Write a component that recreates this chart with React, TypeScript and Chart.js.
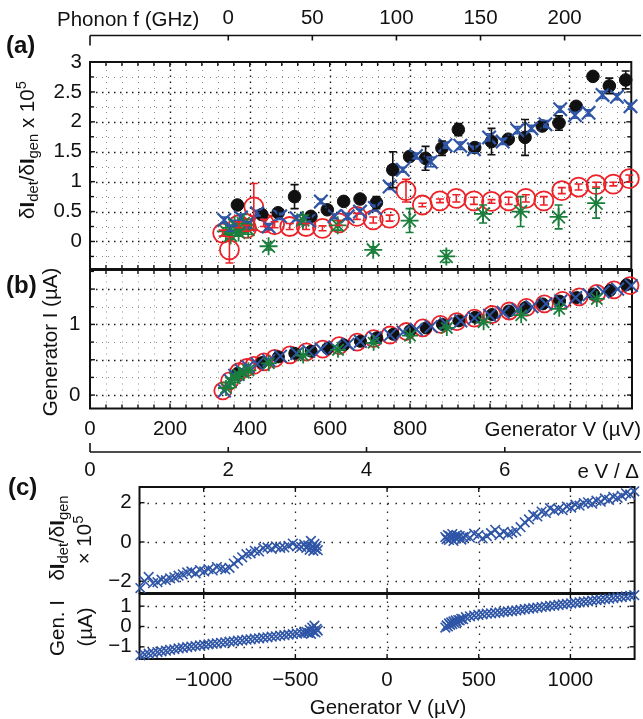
import React, { useEffect, useRef } from "react";
import { Chart, registerables } from "chart.js";

Chart.register(...registerables);

// ---------------- Panel (a) & (b) data ----------------
const vBlack = [369, 430, 471, 512, 553, 594, 635, 676, 717, 758, 800, 840, 881, 922, 963, 1005, 1047, 1089, 1132, 1174, 1217, 1259, 1300, 1341];
const ratioBlack = [0.61, 0.45, 0.48, 0.75, 0.42, 0.53, 0.67, 0.71, 0.65, 1.2, 1.42, 1.39, 1.56, 1.87, 1.57, 1.67, 1.71, 1.74, 1.93, 1.98, 2.26, 2.76, 2.6, 2.7];
const errBlack = [0.07, 0.05, 0.06, 0.2, 0.05, 0.06, 0.05, 0.06, 0.1, 0.3, 0.06, 0.2, 0.12, 0.1, 0.06, 0.22, 0.05, 0.3, 0.06, 0.12, 0.05, 0.04, 0.13, 0.15];
const iBlack = [0.31, 0.46, 0.54, 0.59, 0.62, 0.66, 0.71, 0.76, 0.81, 0.86, 0.91, 0.95, 1.0, 1.05, 1.1, 1.14, 1.19, 1.24, 1.29, 1.33, 1.38, 1.43, 1.48, 1.56];

const vBlue = [336, 350, 362, 378, 395, 418, 447, 476, 517, 547, 578, 612, 645, 676, 713, 750, 783, 816, 853, 890, 927, 961, 999, 1033, 1070, 1105, 1140, 1177, 1214, 1248, 1283, 1319, 1353];
const ratioBlue = [0.36, 0.22, 0.3, 0.4, 0.28, 0.47, 0.25, 0.42, 0.39, 0.35, 0.67, 0.42, 0.42, 0.5, 0.56, 0.92, 1.2, 1.43, 1.33, 1.61, 1.6, 1.54, 1.74, 1.67, 1.86, 1.89, 1.96, 2.21, 2.11, 2.15, 2.45, 2.42, 2.26];
const errBlue = [0.05, 0.05, 0.05, 0.06, 0.05, 0.05, 0.05, 0.05, 0.04, 0.05, 0.04, 0.04, 0.05, 0.04, 0.05, 0.05, 0.04, 0.05, 0.08, 0.05, 0.06, 0.05, 0.06, 0.05, 0.06, 0.05, 0.06, 0.05, 0.05, 0.05, 0.06, 0.05, 0.05];
const iBlue = [0.06, 0.21, 0.28, 0.35, 0.4, 0.44, 0.49, 0.55, 0.59, 0.62, 0.65, 0.68, 0.72, 0.76, 0.81, 0.85, 0.89, 0.93, 0.97, 1.01, 1.05, 1.09, 1.13, 1.17, 1.21, 1.25, 1.29, 1.33, 1.38, 1.42, 1.46, 1.5, 1.55];

const vRed = [332, 349, 372, 392, 410, 435, 462, 500, 541, 582, 623, 668, 709, 750, 791, 832, 876, 917, 961, 1005, 1048, 1091, 1136, 1181, 1223, 1267, 1310, 1350];
const ratioRed = [0.14, -0.14, 0.28, 0.22, 0.58, 0.31, 0.28, 0.25, 0.25, 0.22, 0.31, 0.42, 0.36, 0.39, 0.85, 0.61, 0.68, 0.72, 0.68, 0.67, 0.68, 0.72, 0.68, 0.85, 0.91, 0.95, 0.96, 1.05];
const errRed = [0.05, 0.22, 0.05, 0.05, 0.39, 0.06, 0.05, 0.05, 0.05, 0.04, 0.04, 0.05, 0.05, 0.05, 0.19, 0.03, 0.03, 0.06, 0.06, 0.03, 0.06, 0.06, 0.07, 0.05, 0.05, 0.04, 0.03, 0.06];
const iRed = [0.06, 0.2, 0.33, 0.39, 0.42, 0.47, 0.52, 0.57, 0.61, 0.65, 0.7, 0.75, 0.8, 0.85, 0.9, 0.95, 1.0, 1.04, 1.09, 1.14, 1.19, 1.24, 1.29, 1.34, 1.39, 1.44, 1.49, 1.55];

const vGreen = [340, 352, 362, 372, 384, 396, 447, 533, 620, 709, 800, 892, 984, 1078, 1173, 1267];
const ratioGreen = [0.17, 0.1, 0.27, 0.15, 0.3, 0.2, -0.08, 0.36, 0.27, -0.14, 0.35, -0.25, 0.46, 0.5, 0.41, 0.64];
const errGreen = [0.06, 0.06, 0.08, 0.06, 0.15, 0.08, 0.06, 0.08, 0.08, 0.05, 0.2, 0.1, 0.15, 0.25, 0.2, 0.25];
const iGreen = [0.1, 0.18, 0.24, 0.28, 0.32, 0.35, 0.45, 0.56, 0.64, 0.74, 0.84, 0.95, 1.03, 1.13, 1.22, 1.36];

// ---------------- Panel (c) data ----------------
const vNeg = [-1345, -1322, -1300, -1276, -1252, -1230, -1206, -1183, -1160, -1137, -1114, -1090, -1067, -1044, -1020, -997, -974, -951, -928, -905, -882, -859, -836, -813, -790, -767, -744, -721, -698, -675, -652, -629, -606, -583, -560, -537, -514, -491, -468, -452, -440, -430, -422, -415, -408, -402, -396, -390, -384, -378];
const ratioNeg = [-2.35, -2.0, -1.78, -2.1, -2.05, -1.92, -1.95, -1.85, -1.8, -1.72, -1.65, -1.55, -1.5, -1.6, -1.43, -1.5, -1.39, -1.45, -1.28, -1.35, -1.4, -1.32, -1.1, -0.95, -0.78, -0.62, -0.58, -0.45, -0.48, -0.32, -0.28, -0.35, -0.22, -0.3, -0.28, -0.2, -0.08, -0.22, -0.25, -0.12, -0.3, -0.18, -0.4, 0.05, -0.25, -0.45, -0.1, -0.35, -0.2, -0.42];
const iNeg = [-1.42, -1.38, -1.34, -1.3, -1.26, -1.22, -1.19, -1.15, -1.12, -1.08, -1.05, -1.02, -0.99, -0.96, -0.93, -0.9, -0.88, -0.85, -0.83, -0.8, -0.78, -0.75, -0.73, -0.7, -0.68, -0.65, -0.63, -0.6, -0.58, -0.55, -0.53, -0.5, -0.48, -0.45, -0.43, -0.4, -0.38, -0.35, -0.32, -0.3, -0.26, -0.31, -0.17, -0.36, -0.06, -0.24, 0.04, -0.29, -0.12, -0.2];

const vPos = [318, 325, 332, 338, 344, 350, 356, 362, 368, 374, 380, 388, 396, 405, 415, 430, 452, 475, 498, 521, 544, 567, 590, 613, 636, 659, 682, 705, 728, 751, 774, 797, 820, 843, 866, 889, 912, 935, 958, 981, 1004, 1027, 1050, 1073, 1096, 1119, 1142, 1165, 1188, 1211, 1234, 1257, 1280, 1303, 1326, 1348];
const ratioPos = [0.25, 0.15, 0.35, 0.1, 0.3, 0.2, 0.4, 0.05, 0.28, 0.18, 0.35, 0.22, 0.3, 0.12, 0.25, 0.3, 0.22, 0.42, 0.35, 0.18, 0.3, 0.45, 0.62, 0.35, 0.52, 0.4, 0.48, 0.55, 0.75, 1.0, 1.15, 1.38, 1.3, 1.55, 1.48, 1.72, 1.6, 1.68, 1.62, 1.8, 1.75, 1.9, 1.85, 1.98, 2.02, 1.95, 2.1, 2.05, 2.22, 2.15, 2.3, 2.25, 2.35, 2.48, 2.42, 2.58];
const iPos = [-0.05, 0.05, 0.0, 0.15, 0.08, 0.2, 0.12, 0.25, 0.18, 0.3, 0.22, 0.32, 0.3, 0.38, 0.36, 0.46, 0.5, 0.54, 0.57, 0.6, 0.63, 0.65, 0.67, 0.69, 0.72, 0.74, 0.76, 0.79, 0.82, 0.85, 0.88, 0.9, 0.93, 0.96, 0.98, 1.01, 1.03, 1.06, 1.09, 1.11, 1.14, 1.16, 1.19, 1.22, 1.24, 1.27, 1.3, 1.32, 1.35, 1.37, 1.4, 1.43, 1.45, 1.48, 1.51, 1.54];

// ---------------- axis tick labels ----------------
const phononTickLabels = [0, 50, 100, 150, 200];
const gapTickLabels = [0, 2, 4, 6];
const genVTickLabels = [0, 200, 400, 600, 800];
const ratioATickLabels = [0, 0.5, 1, 1.5, 2, 2.5, 3];
const currentBTickLabels = [0, 1];
const cXTickLabels = [-1000, -500, 0, 500, 1000];
const cTopYTickLabels = [-2, 0, 2];
const cBotYTickLabels = [-1, 0, 1];

// axis ranges / physical conversion
const V_MIN = 0;
const V_MAX = 1355;
const DELTA_UV = 170; // superconducting gap (µV)
const GHZ_PER_UV = 0.2418; // e/h
const PH_MIN = (V_MIN - 2 * DELTA_UV) * GHZ_PER_UV;
const PH_MAX = (V_MAX - 2 * DELTA_UV) * GHZ_PER_UV;

// ---------------- styling ----------------
const FONT = "'Liberation Sans', Arial, Helvetica, sans-serif";
const FS = 20.5;
const PW = 643;
const PH = 719;
const BLUE = "#2f55a6";
const RED = "#ec2228";
const GREEN = "#1b7f3c";
const BLACK = "#111111";

const fmt = (v: number) => (v < 0 ? "\u2212" + String(-v) : String(v));

function mkTicks(min: number, max: number, step: number, majorStep: number, labels: number[]) {
  const out: any[] = [];
  const n0 = Math.ceil(min / step - 1e-9);
  const n1 = Math.floor(max / step + 1e-9);
  for (let n = n0; n <= n1; n++) {
    const v = Math.round(n * step * 1e6) / 1e6;
    const r = v / majorStep;
    const mj = Math.abs(r - Math.round(r)) < 1e-6;
    const hasLabel = labels.some((l) => Math.abs(l - v) < 1e-6);
    out.push({ value: v, mj, lbl: hasLabel ? fmt(v) : "" });
  }
  return out;
}

function scale(o: any) {
  const horizontal = o.position === "top" || o.position === "bottom";
  return {
    type: "linear",
    position: o.position,
    min: o.min,
    max: o.max,
    bounds: "data",
    display: o.display === undefined ? true : o.display,
    afterBuildTicks: (s: any) => {
      s.ticks = o.ticks.map((t: any) => ({ ...t }));
    },
    afterFit: (s: any) => {
      if (horizontal) s.height = o.size;
      else s.width = o.size;
    },
    grid: { display: false, drawTicks: false, drawOnChartArea: false },
    border: { display: false },
    ticks: {
      display: o.labels === undefined ? true : o.labels,
      autoSkip: false,
      maxRotation: 0,
      minRotation: 0,
      padding: o.padding === undefined ? 8 : o.padding,
      color: "#111",
      font: { family: FONT, size: FS },
      callback: (_v: any, i: number, arr: any[]) => (arr[i] && arr[i].lbl) || "",
    },
  };
}

const matlabPlugin: any = {
  id: "matlab",
  beforeDatasetsDraw(chart: any, _a: any, o: any) {
    if (!o || !o.on) return;
    const { ctx, chartArea: a } = chart;
    const xs = chart.scales.x;
    const ys = chart.scales.y;
    const seg = (x1: number, y1: number, x2: number, y2: number) => {
      ctx.beginPath();
      ctx.moveTo(x1, y1);
      ctx.lineTo(x2, y2);
      ctx.stroke();
    };
    ctx.save();
    for (const t of xs.ticks) {
      if (!t.mj && !o.minorGrid) continue;
      const p = Math.round(xs.getPixelForValue(t.value)) + 0.5;
      if (p < a.left + 2 || p > a.right - 2) continue;
      ctx.setLineDash(t.mj ? o.majorDash : o.minorDash);
      ctx.strokeStyle = t.mj ? o.majorColor : o.minorColor;
      ctx.lineWidth = t.mj ? o.majorWidth : o.minorWidth;
      seg(p, a.bottom, p, a.top);
    }
    for (const t of ys.ticks) {
      if (!t.mj && !o.minorGrid) continue;
      const p = Math.round(ys.getPixelForValue(t.value)) + 0.5;
      if (p < a.top + 2 || p > a.bottom - 2) continue;
      ctx.setLineDash(t.mj ? o.majorDash : o.minorDash);
      ctx.strokeStyle = t.mj ? o.majorColor : o.minorColor;
      ctx.lineWidth = t.mj ? o.majorWidth : o.minorWidth;
      seg(a.left, p, a.right, p);
    }
    ctx.setLineDash([]);
    ctx.strokeStyle = "#111";
    ctx.lineWidth = o.tickWidth;
    for (const t of xs.ticks) {
      if (!t.mj && !o.minorTicks) continue;
      const p = xs.getPixelForValue(t.value);
      const L = t.mj ? o.tickLen : o.minorTickLen;
      seg(p, a.top, p, a.top + L);
      seg(p, a.bottom, p, a.bottom - L);
    }
    for (const t of ys.ticks) {
      if (!t.mj && !o.minorTicks) continue;
      const p = ys.getPixelForValue(t.value);
      const L = t.mj ? o.tickLen : o.minorTickLen;
      seg(a.left, p, a.left + L, p);
      seg(a.right, p, a.right - L, p);
    }
    ctx.lineWidth = o.borderWidth;
    ctx.strokeRect(a.left, a.top, a.right - a.left, a.bottom - a.top);
    ctx.restore();
  },
};

const floatAxisPlugin: any = {
  id: "floatAxis",
  afterDraw(chart: any, _a: any, o: any) {
    if (!o || !o.on) return;
    const { ctx, chartArea: a } = chart;
    const xs = chart.scales.x;
    const y0 = o.side === "top" ? a.top : a.bottom;
    const dir = o.side === "top" ? 1 : -1;
    ctx.save();
    ctx.strokeStyle = "#111";
    ctx.lineWidth = o.width;
    ctx.beginPath();
    ctx.moveTo(a.left, y0);
    ctx.lineTo(a.right, y0);
    ctx.stroke();
    xs.ticks.forEach((t: any, i: number) => {
      const p = xs.getPixelForValue(t.value);
      const L = i === 0 ? o.endLen : o.len;
      ctx.beginPath();
      ctx.moveTo(p, y0);
      ctx.lineTo(p, y0 + dir * L);
      ctx.stroke();
    });
    ctx.restore();
  },
};

const errPlugin: any = {
  id: "errbars",
  afterDatasetsDraw(chart: any) {
    const { ctx } = chart;
    const xs = chart.scales.x;
    const ys = chart.scales.y;
    chart.data.datasets.forEach((ds: any) => {
      if (!ds.errors) return;
      ctx.save();
      ctx.strokeStyle = ds.errColor;
      ctx.lineWidth = ds.errWidth || 1.6;
      const c = ds.capHalf || 4;
      ds.data.forEach((pt: any, j: number) => {
        const e = ds.errors[j];
        if (!e) return;
        const px = xs.getPixelForValue(pt.x);
        const y1 = ys.getPixelForValue(pt.y - e);
        const y2 = ys.getPixelForValue(pt.y + e);
        ctx.beginPath();
        ctx.moveTo(px, y1);
        ctx.lineTo(px, y2);
        ctx.moveTo(px - c, y1);
        ctx.lineTo(px + c, y1);
        ctx.moveTo(px - c, y2);
        ctx.lineTo(px + c, y2);
        ctx.stroke();
      });
      ctx.restore();
    });
  },
};

const pts = (xs: number[], ys: number[]) => xs.map((x, i) => ({ x, y: ys[i] }));

function makeChart(canvas: HTMLCanvasElement, cfg: any) {
  const { area, xSize, ySize, xPos } = cfg;
  const padding =
    xPos === "top"
      ? { left: area.l - ySize, right: PW - area.r, top: area.t - xSize, bottom: PH - area.b }
      : { left: area.l - ySize, right: PW - area.r, top: area.t, bottom: PH - area.b - xSize };
  return new Chart(canvas, {
    type: "scatter",
    data: { datasets: cfg.datasets || [] },
    options: {
      animation: false,
      responsive: false,
      devicePixelRatio: 1,
      events: [],
      layout: { padding },
      scales: { x: cfg.x, y: cfg.y },
      plugins: {
        legend: { display: false },
        tooltip: { enabled: false },
        matlab: cfg.matlab || { on: false },
        floatAxis: cfg.floatAxis || { on: false },
      },
    } as any,
    plugins: [matlabPlugin, floatAxisPlugin, errPlugin],
  });
}

const gridAB = {
  on: true,
  minorGrid: true,
  minorTicks: true,
  majorDash: [1.5, 4.5],
  minorDash: [1, 5],
  majorColor: "#1a1a1a",
  minorColor: "#8a8a8a",
  majorWidth: 1.4,
  minorWidth: 1,
  tickLen: 5,
  minorTickLen: 4,
  tickWidth: 1.4,
  borderWidth: 2,
};

const gridC = {
  on: true,
  minorGrid: false,
  minorTicks: false,
  majorDash: [1.5, 6.5],
  minorDash: [1, 6],
  majorColor: "#222",
  minorColor: "#777",
  majorWidth: 1.3,
  minorWidth: 1,
  tickLen: 5,
  minorTickLen: 3,
  tickWidth: 1.4,
  borderWidth: 2,
};

export default function App() {
  const r0 = useRef<HTMLCanvasElement>(null);
  const r1 = useRef<HTMLCanvasElement>(null);
  const r2 = useRef<HTMLCanvasElement>(null);
  const r3 = useRef<HTMLCanvasElement>(null);
  const r4 = useRef<HTMLCanvasElement>(null);
  const r5 = useRef<HTMLCanvasElement>(null);

  useEffect(() => {
    const charts: Chart[] = [];

    // Phonon frequency axis (top)
    charts.push(
      makeChart(r0.current!, {
        area: { l: 90, t: 35.5, r: 641, b: 41 },
        xSize: 35.5,
        ySize: 0,
        xPos: "top",
        x: scale({
          position: "top",
          min: PH_MIN,
          max: PH_MAX,
          size: 35.5,
          padding: 4.7,
          ticks: [{ value: PH_MIN, lbl: "" }].concat(phononTickLabels.map((v) => ({ value: v, lbl: String(v) })) as any),
        }),
        y: { type: "linear", display: false, min: 0, max: 1 },
        floatAxis: { on: true, side: "top", len: 5, endLen: 10, width: 1.6 },
      })
    );

    // Panel (a)
    const xTicksAB = mkTicks(V_MIN, V_MAX, 40, 200, genVTickLabels);
    charts.push(
      makeChart(r1.current!, {
        area: { l: 90, t: 62, r: 641, b: 269 },
        xSize: 0,
        ySize: 90,
        xPos: "bottom",
        x: scale({ position: "bottom", min: V_MIN, max: V_MAX, size: 0, labels: false, ticks: xTicksAB }),
        y: scale({ position: "left", min: -0.46, max: 3, size: 90, padding: 8, ticks: mkTicks(-0.46, 3, 0.25, 0.5, ratioATickLabels) }),
        matlab: gridAB,
        datasets: [
          { data: pts(vGreen, ratioGreen), pointStyle: "star", pointRadius: 9, pointBorderColor: GREEN, pointBackgroundColor: GREEN, pointBorderWidth: 1.8, errors: errGreen, errColor: GREEN, clip: false },
          { data: pts(vBlue, ratioBlue), pointStyle: "crossRot", pointRadius: 9.5, pointBorderColor: BLUE, pointBackgroundColor: BLUE, pointBorderWidth: 2.2, errors: errBlue, errColor: BLUE, clip: false },
          { data: pts(vBlack, ratioBlack), pointStyle: "circle", pointRadius: 6.3, pointBorderColor: BLACK, pointBackgroundColor: BLACK, pointBorderWidth: 1, errors: errBlack, errColor: BLACK, clip: false },
          { data: pts(vRed, ratioRed), pointStyle: "circle", pointRadius: 9.5, pointBorderColor: RED, pointBackgroundColor: "rgba(0,0,0,0)", pointBorderWidth: 1.8, errors: errRed, errColor: RED, clip: false },
        ],
      })
    );

    // Panel (b)
    charts.push(
      makeChart(r2.current!, {
        area: { l: 90, t: 270, r: 641, b: 408.5 },
        xSize: 40,
        ySize: 90,
        xPos: "bottom",
        x: scale({ position: "bottom", min: V_MIN, max: V_MAX, size: 40, padding: 8.2, ticks: xTicksAB }),
        y: scale({ position: "left", min: -0.19, max: 1.77, size: 90, padding: 9.5, ticks: mkTicks(-0.19, 1.77, 0.25, 0.5, currentBTickLabels) }),
        matlab: gridAB,
        datasets: [
          { data: pts(vGreen, iGreen), pointStyle: "star", pointRadius: 8, pointBorderColor: GREEN, pointBackgroundColor: GREEN, pointBorderWidth: 1.8, clip: false },
          { data: pts(vBlue, iBlue), pointStyle: "crossRot", pointRadius: 9, pointBorderColor: BLUE, pointBackgroundColor: BLUE, pointBorderWidth: 2, clip: false },
          { data: pts(vBlack, iBlack), pointStyle: "circle", pointRadius: 6, pointBorderColor: BLACK, pointBackgroundColor: BLACK, pointBorderWidth: 1, clip: false },
          { data: pts(vRed, iRed), pointStyle: "circle", pointRadius: 8.5, pointBorderColor: RED, pointBackgroundColor: "rgba(0,0,0,0)", pointBorderWidth: 1.8, clip: false },
        ],
      })
    );

    // e V / Δ axis
    charts.push(
      makeChart(r3.current!, {
        area: { l: 90, t: 445, r: 641, b: 452 },
        xSize: 40,
        ySize: 0,
        xPos: "bottom",
        x: scale({
          position: "bottom",
          min: V_MIN / DELTA_UV,
          max: V_MAX / DELTA_UV,
          size: 40,
          padding: 6.2,
          ticks: gapTickLabels.map((v) => ({ value: v, lbl: String(v) })),
        }),
        y: { type: "linear", display: false, min: 0, max: 1 },
        floatAxis: { on: true, side: "bottom", len: 5, endLen: 9, width: 1.6 },
      })
    );

    const cX = mkTicks(-1350, 1350, 500, 500, cXTickLabels);
    // Panel (c) top
    charts.push(
      makeChart(r4.current!, {
        area: { l: 139.5, t: 487, r: 636, b: 593 },
        xSize: 0,
        ySize: 139.5,
        xPos: "bottom",
        x: scale({ position: "bottom", min: -1350, max: 1350, size: 0, labels: false, ticks: cX }),
        y: scale({ position: "left", min: -2.6, max: 2.8, size: 139.5, padding: 7.8, ticks: mkTicks(-2.6, 2.8, 2, 2, cTopYTickLabels) }),
        matlab: gridC,
        datasets: [
          { data: pts(vNeg, ratioNeg), pointStyle: "crossRot", pointRadius: 6.8, pointBorderColor: BLUE, pointBackgroundColor: BLUE, pointBorderWidth: 1.6, clip: false },
          { data: pts(vPos, ratioPos), pointStyle: "crossRot", pointRadius: 6.8, pointBorderColor: BLUE, pointBackgroundColor: BLUE, pointBorderWidth: 1.6, clip: false },
        ],
      })
    );

    // Panel (c) bottom
    charts.push(
      makeChart(r5.current!, {
        area: { l: 139.5, t: 594, r: 636, b: 659 },
        xSize: 40,
        ySize: 139.5,
        xPos: "bottom",
        x: scale({ position: "bottom", min: -1350, max: 1350, size: 40, padding: 8.7, ticks: cX }),
        y: scale({ position: "left", min: -1.6, max: 1.6, size: 139.5, padding: 7.8, ticks: mkTicks(-1.6, 1.6, 1, 1, cBotYTickLabels) }),
        matlab: gridC,
        datasets: [
          { data: pts(vNeg, iNeg), pointStyle: "crossRot", pointRadius: 6.8, pointBorderColor: BLUE, pointBackgroundColor: BLUE, pointBorderWidth: 1.6, clip: false },
          { data: pts(vPos, iPos), pointStyle: "crossRot", pointRadius: 6.8, pointBorderColor: BLUE, pointBackgroundColor: BLUE, pointBorderWidth: 1.6, clip: false },
        ],
      })
    );

    return () => charts.forEach((c) => c.destroy());
  }, []);

  const canvasStyle: React.CSSProperties = { position: "absolute", left: 0, top: 0, width: PW, height: PH };
  const sub: React.CSSProperties = { fontSize: "0.72em", verticalAlign: "-0.32em", lineHeight: 0 };
  const sup: React.CSSProperties = { fontSize: "0.72em", verticalAlign: "0.55em", lineHeight: 0 };

  const txt = (key: string, x: number, y: number, content: React.ReactNode, opt: any = {}) => {
    let transform = "translate(-50%, -50%)";
    if (opt.align === "left") transform = "translate(0, -50%)";
    if (opt.align === "right") transform = "translate(-100%, -50%)";
    if (opt.rot) transform = "translate(-50%, -50%) rotate(-90deg)";
    return (
      <div
        key={key}
        style={{
          position: "absolute",
          left: x,
          top: y,
          transform,
          whiteSpace: "nowrap",
          lineHeight: 1,
          fontSize: opt.size || FS,
          fontWeight: opt.bold ? "bold" : "normal",
          fontFamily: FONT,
          color: "#111",
        }}
      >
        {content}
      </div>
    );
  };

  return (
    <div style={{ position: "absolute", left: 0, top: 0, width: PW, height: PH, background: "#fff", overflow: "hidden" }}>
      <canvas ref={r0} width={PW} height={PH} style={canvasStyle} />
      <canvas ref={r1} width={PW} height={PH} style={canvasStyle} />
      <canvas ref={r2} width={PW} height={PH} style={canvasStyle} />
      <canvas ref={r3} width={PW} height={PH} style={canvasStyle} />
      <canvas ref={r4} width={PW} height={PH} style={canvasStyle} />
      <canvas ref={r5} width={PW} height={PH} style={canvasStyle} />
      {txt("pa", 6, 45, "(a)", { bold: true, size: 24, align: "left" })}
      {txt("pb", 6, 285, "(b)", { bold: true, size: 24, align: "left" })}
      {txt("pc", 8, 487, "(c)", { bold: true, size: 24, align: "left" })}
      {txt("ph", 57, 19, "Phonon f (GHz)", { align: "left" })}
      {txt("gv", 641, 429, "Generator V (\u00b5V)", { align: "right" })}
      {txt("ev", 639, 470.5, "e V / \u0394", { align: "right" })}
      {txt(
        "ya",
        27,
        150,
        <span>
          {"\u03b4"}
          <b>I</b>
          <span style={sub}>det</span>/{"\u03b4"}
          <b>I</b>
          <span style={sub}>gen</span> x 10<span style={sup}>5</span>
        </span>,
        { rot: true }
      )}
      {txt("yb", 50, 342, "Generator I (\u00b5A)", { rot: true })}
      {txt(
        "yc1",
        57,
        538,
        <span>
          {"\u03b4"}
          <b>I</b>
          <span style={sub}>det</span>/{"\u03b4"}
          <b>I</b>
          <span style={sub}>gen</span>
        </span>,
        { rot: true }
      )}
      {txt(
        "yc2",
        84,
        540,
        <span>
          {"\u00d7"} 10<span style={sup}>5</span>
        </span>,
        { rot: true }
      )}
      {txt("yc3", 57, 628, "Gen. I", { rot: true })}
      {txt("yc4", 85, 627, "(\u00b5A)", { rot: true })}
      {txt("xc", 388, 707, "Generator V (\u00b5V)")}
    </div>
  );
}
